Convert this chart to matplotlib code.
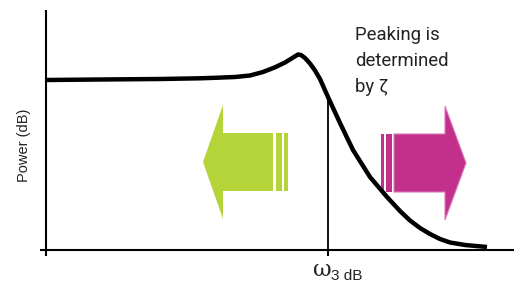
import numpy as np
import matplotlib
matplotlib.use("Agg")
import matplotlib.pyplot as plt
from matplotlib.patches import Polygon

# ---- data (arbitrary units: frequency axis 0..468, power axis 0..240) ----
freq = [0, 54, 114, 154, 169, 189, 204, 217, 229, 239, 246, 252, 255, 259, 264,
        269, 274, 282, 294, 307, 324, 341, 354, 364, 374, 384, 394, 404, 419, 441]
power = [170, 170.5, 171, 171.7, 172.2, 173, 174.5, 178, 182.7, 187.5, 191.8,
         195.5, 195, 192, 186.5, 179.5, 171, 153, 127, 100, 73, 53, 39, 29.5,
         22, 16, 11, 7.5, 5, 3]
f_3db = 282
peak_text = ["Peaking is", "determined", "by \u03b6"]
ylabel = "Power (dB)"
xtick_omega = "\u03c9"
xtick_sub = "3 dB"

# arrow geometry (data units)
green_arrow = dict(tip=157, head_base=177, body_end=227, center=88,
                   head_half=57, body_half=29, stripes=[(230, 235.7), (238.3, 241.7)])
mag_arrow = dict(tip=420, head_base=399, body_end=348, center=87,
                 head_half=57, body_half=29, stripes=[(340, 346), (335, 338)])
green = "#B5D43A"
magenta = "#C2308C"

W, H = 514, 282
fig = plt.figure(figsize=(W / 100, H / 100), dpi=100)
ax = fig.add_axes([46 / W, (H - 250) / H, 1 - 46 / W, 240 / H])
ax.set_xlim(0, 468)
ax.set_ylim(0, 240)
for s in ["top", "right"]:
    ax.spines[s].set_visible(False)
for s in ["left", "bottom"]:
    ax.spines[s].set_linewidth(1.5)
    ax.spines[s].set_capstyle("butt")
ax.set_xticks([0, f_3db])
ax.set_xticklabels(["", ""])
ax.set_yticks([0])
ax.set_yticklabels([""])
ax.tick_params(axis="x", direction="out", length=4.5, width=1.5)
ax.tick_params(axis="y", direction="out", length=4, width=1.5)


def arrow(a, color, edge=None):
    c, hh, bh = a["center"], a["head_half"], a["body_half"]
    pts = [(a["tip"], c), (a["head_base"], c + hh), (a["head_base"], c + bh),
           (a["body_end"], c + bh), (a["body_end"], c - bh),
           (a["head_base"], c - bh), (a["head_base"], c - hh)]
    ax.add_patch(Polygon(pts, closed=True, facecolor=color,
                         edgecolor=edge if edge else "none",
                         linewidth=0.8 if edge else 0, zorder=2))
    for x0, x1 in a["stripes"]:
        ax.add_patch(Polygon([(x0, c - bh), (x1, c - bh), (x1, c + bh), (x0, c + bh)],
                             closed=True, facecolor=color, edgecolor="none", zorder=2))


arrow(green_arrow, green)
arrow(mag_arrow, magenta, edge="#D878B4")

ax.plot(freq, power, color="black", lw=3.2, solid_capstyle="butt",
        solid_joinstyle="round", zorder=4)
ax.vlines(f_3db, 0, np.interp(f_3db, freq, power), color="black", lw=1.3, zorder=3)

# texts
for i, t in enumerate(peak_text):
    fig.text(355 / W, 1 - (39.5 + 26.5 * i) / H, t, family=["Roboto", "DejaVu Sans"],
             fontsize=13.3, color="#222222", ha="left", va="baseline")
fig.text(24 / W, 1 - 145 / H, ylabel, family="Liberation Sans", fontsize=10.5,
         color="#222222", rotation=90, ha="center", va="center")
fig.text(322 / W, 1 - 275.5 / H, xtick_omega, family="DejaVu Serif", fontsize=16.5,
         color="#222222", ha="center", va="baseline")
fig.text(331 / W, 1 - 280.5 / H, xtick_sub, family="Liberation Sans", fontsize=11,
         color="#222222", ha="left", va="baseline")

fig.savefig("out.png", dpi=100)
